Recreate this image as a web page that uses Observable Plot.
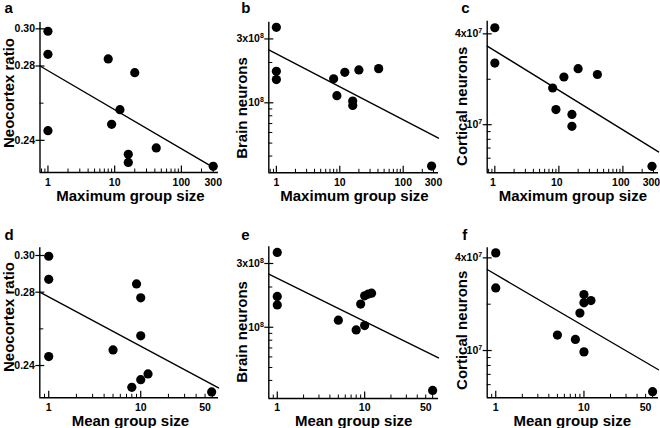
<!DOCTYPE html>
<html><head><meta charset="utf-8">
<script src="https://cdn.jsdelivr.net/npm/d3@7"></script>
<script src="https://cdn.jsdelivr.net/npm/@observablehq/plot@0.6"></script>
<style>
html,body{margin:0;padding:0;background:#fff;}
#wrap{position:relative;width:660px;height:428px;overflow:hidden;background:#fff;}
#wrap svg{position:absolute;}
</style></head><body><div id="wrap"></div>
<script>
// ---------- data ----------
const aX = [1, 1, 1, 8, 20, 12, 9, 16, 16, 42, 300];
const aY = [0.2987, 0.2863, 0.2452, 0.2838, 0.2764, 0.2565, 0.2486, 0.2325, 0.2281, 0.2359, 0.2260];
const bX = [1, 1, 1, 8, 12, 20, 41, 9, 16, 16, 280];
const bY = [3.66e8, 1.72e8, 1.49e8, 1.51e8, 1.69e8, 1.76e8, 1.80e8, 1.13e8, 1.03e8, 9.55e7, 3.37e7];
const cX = [1, 1, 8, 12, 20, 40, 9, 16, 16, 285];
const cY = [4.39e7, 2.56e7, 1.75e7, 2.07e7, 2.35e7, 2.15e7, 1.26e7, 1.17e7, 9.75e6, 5.3e6];
const dX = [1, 1, 1, 9, 10, 10, 5, 10, 12, 8, 59];
const dY = [0.2996, 0.2870, 0.2449, 0.2845, 0.2769, 0.2562, 0.2485, 0.2323, 0.2354, 0.2281, 0.2256];
const eX = [1, 1, 1, 5, 8, 10, 9, 10, 11, 12, 60];
const eY = [3.63e8, 1.70e8, 1.47e8, 1.13e8, 9.55e7, 1.03e8, 1.49e8, 1.72e8, 1.77e8, 1.80e8, 3.37e7];
const fX = [1, 1, 10, 12, 10, 9, 5, 8, 10, 60];
const fY = [4.31e7, 2.55e7, 2.31e7, 2.11e7, 2.04e7, 1.75e7, 1.26e7, 1.18e7, 9.8e6, 5.4e6];

// regression line end points
const aFitX = [0.76, 300], aFitY = [0.28, 0.2255];
const bFitX = [0.76, 360], bFitY = [2.49e8, 5.45e7];
const cFitX = [0.76, 360], cFitY = [3.32e7, 6.6e6];
const dFitX = [0.8, 70],   dFitY = [0.28, 0.2278];
const eFitX = [0.8, 70],   eFitY = [2.5e8, 5.9e7];
const fFitX = [0.8, 70],   fFitY = [3.36e7, 7.5e6];

// ticks
const xTicksMax = [0.8, 0.9, 1, 2, 3, 4, 5, 6, 7, 8, 9, 10, 20, 30, 40, 50, 60, 70, 80, 90, 100, 200, 300];
const xMajorMax = [1, 10, 100];
const xLabelsMax = [1, 10, 100, 300];
const xTicksMean = [0.9, 1, 2, 3, 4, 5, 6, 7, 8, 9, 10, 20, 30, 40, 50, 60];
const xMajorMean = [1, 10];
const xLabelsMean = [1, 10, 50];
const yTicksRatio = [0.24, 0.26, 0.28, 0.30];
const yLabelsRatio = [0.24, 0.28, 0.30];
const yTicksBrain = [4e7, 5e7, 6e7, 7e7, 8e7, 9e7, 1e8, 2e8, 3e8];
const yLabelsBrain = [1e8, 3e8];
const yTicksCortex = [6e6, 7e6, 8e6, 9e6, 1e7, 2e7, 4e7];
const yLabelsCortex = [1e7, 4e7];

const xTitleMax = "Maximum group size";
const xTitleMean = "Mean group size";
const yTitleRatio = "Neocortex ratio";
const yTitleBrain = "Brain neurons";
const yTitleCortex = "Cortical neurons";

// ---------- drawing ----------
const FONT = "Liberation Sans, Arial, Helvetica, sans-serif";
const fmtLin = d3.format(".2f");
const fmtPow = d => {
  const e = Math.floor(Math.log10(d) + 1e-9);
  const m = Math.round(d / Math.pow(10, e));
  return (m === 1 ? "" : m + "x") + "10^" + e;
};

function panel(c) {
  const W = 220, H = 214, mR = 2;
  const pw = W - c.mL - mR, ph = H - c.mT - c.mB;
  const pts = c.x.map((d, i) => ({x: d, y: c.y[i]}));
  const fit = c.fitX.map((d, i) => ({x: d, y: c.fitY[i]}));
  const xMinor = c.xTicks.filter(d => !c.xMajor.includes(d));
  const yMinor = c.yTicks.filter(d => !c.yLabels.includes(d));
  const font = {fontFamily: FONT, fontWeight: "bold", fill: "black"};
  const ax = {stroke: "black", strokeWidth: 1.4};
  const svg = Plot.plot({
    width: W, height: H,
    marginLeft: c.mL, marginRight: mR, marginTop: c.mT, marginBottom: c.mB,
    x: {type: "log", domain: c.xDomain, axis: null},
    y: {type: c.yType, domain: c.yDomain, axis: null},
    style: {background: "transparent", overflow: "visible"},
    marks: [
      Plot.ruleX([c.xDomain[0]], ax),
      Plot.ruleY([c.yDomain[0]], ax),
      Plot.ruleX(xMinor, {x: d => d, insetTop: ph - 3.5, stroke: "black", strokeWidth: 1}),
      Plot.ruleX(c.xMajor, {x: d => d, insetTop: ph - 6.5, stroke: "black", strokeWidth: 1.2}),
      Plot.ruleY(yMinor, {y: d => d, insetLeft: 0, insetRight: pw - 4, stroke: "black", strokeWidth: 1}),
      Plot.ruleY(c.yLabels, {y: d => d, insetLeft: -4, insetRight: pw - 5, stroke: "black", strokeWidth: 1.2}),
      Plot.text(c.xLabels, {x: d => d, text: d => String(d), frameAnchor: "bottom", lineAnchor: "middle", textAnchor: "middle", dx: c.xLabelDx || 0, dy: c.xTickDy, fontSize: 10.5, ...font}),
      Plot.text(c.yLabels, {y: d => d, text: c.yFormat, frameAnchor: "left", lineAnchor: "middle", textAnchor: "end", dx: -5, fontSize: 10.5, ...font}),
      Plot.line(fit, {x: "x", y: "y", stroke: "black", strokeWidth: 1.4}),
      Plot.dot(pts, {x: "x", y: "y", r: 4.6, fill: "black", stroke: "none"}),
      Plot.text([c.xTitle], {text: d => d, frameAnchor: "bottom", lineAnchor: "middle", textAnchor: "middle", dx: c.xTitleDx, dy: c.xTitleDy, fontSize: 15, ...font}),
      Plot.text([c.yTitle], {text: d => d, frameAnchor: "left", lineAnchor: "middle", textAnchor: "middle", rotate: -90, dx: c.yTitleDx, dy: c.yTitleDy, fontSize: 15, ...font}),
      Plot.text([c.letter], {text: d => d, frameAnchor: "top-left", lineAnchor: "middle", textAnchor: "start", dx: c.letterDx, dy: c.letterDy, fontSize: 15, ...font})
    ]
  });
  // superscript exponents
  svg.querySelectorAll("text").forEach(t => {
    const s = t.textContent;
    const i = s.indexOf("^");
    if (i >= 0 && t.children.length === 0) {
      t.textContent = s.slice(0, i);
      const ts = document.createElementNS("http://www.w3.org/2000/svg", "tspan");
      ts.setAttribute("dy", "-4");
      ts.setAttribute("font-size", "7");
      ts.textContent = s.slice(i + 1);
      t.appendChild(ts);
    }
  });
  svg.style.left = c.left + "px";
  svg.style.top = c.top + "px";
  document.getElementById("wrap").appendChild(svg);
}

const topRow = {xDomain: [0.76, 360], xTicks: xTicksMax, xMajor: xMajorMax, xLabels: xLabelsMax, xTitle: xTitleMax};
const botRow = {xDomain: [0.8, 70], xTicks: xTicksMean, xMajor: xMajorMean, xLabels: xLabelsMean, xTitle: xTitleMean};
const ratio = {yType: "linear", yTicks: yTicksRatio, yLabels: yLabelsRatio, yFormat: fmtLin, yTitle: yTitleRatio};
const brain = {yType: "log", yTicks: yTicksBrain, yLabels: yLabelsBrain, yFormat: fmtPow, yTitle: yTitleBrain};
const cortex = {yType: "log", yTicks: yTicksCortex, yLabels: yLabelsCortex, yFormat: fmtPow, yTitle: yTitleCortex};

panel({...topRow, ...ratio, letter: "a", left: 0, top: 0, x: aX, y: aY, fitX: aFitX, fitY: aFitY,
  yDomain: [0.2227, 0.3034], mL: 39.5, mT: 22, mB: 42,
  letterDx: -35.5, letterDy: -14.2, yTitleDx: -31.3, yTitleDy: -4.5, xTitleDx: 1.2, xTitleDy: 23.4, xTickDy: 10.0});
panel({...topRow, ...brain, letter: "b", left: 220, top: 0, x: bX, y: bY, fitX: bFitX, fitY: bFitY,
  yDomain: [3e7, 4e8], mL: 48.3, mT: 21.7, mB: 41.7,
  letterDx: -27.6, letterDy: -13.9, yTitleDx: -26.6, yTitleDy: 10.5, xTitleDx: 0.8, xTitleDy: 23.1, xTickDy: 9.7});
panel({...topRow, ...cortex, letter: "c", left: 440, top: 0, x: cX, y: cY, fitX: cFitX, fitY: cFitY,
  yDomain: [4.8e6, 4.85e7], mL: 46.7, mT: 20.7, mB: 41.7, xLabelDx: -2,
  letterDx: -26, letterDy: -12.9, yTitleDx: -25, yTitleDy: 9.3, xTitleDx: 0, xTitleDy: 23.1, xTickDy: 9.7});
panel({...botRow, ...ratio, letter: "d", left: 0, top: 214, x: dX, y: dY, fitX: dFitX, fitY: dFitY,
  yDomain: [0.2224, 0.3042], mL: 39.3, mT: 33.3, mB: 30.7,
  letterDx: -35.3, letterDy: -13.1, yTitleDx: -31.1, yTitleDy: -5.8, xTitleDx: 1.3, xTitleDy: 23.8, xTickDy: 10.3});
panel({...botRow, ...brain, letter: "e", left: 220, top: 214, x: eX, y: eY, fitX: eFitX, fitY: eFitY,
  yDomain: [2.93e7, 4.0e8], mL: 48.3, mT: 32.3, mB: 30,
  letterDx: -27.6, letterDy: -11.8, yTitleDx: -27.1, yTitleDy: 9.3, xTitleDx: 0, xTitleDy: 23.1, xTickDy: 9.6});
panel({...botRow, ...cortex, letter: "f", left: 440, top: 214, x: fX, y: fY, fitX: fFitX, fitY: fFitY,
  yDomain: [4.93e6, 4.65e7], mL: 46.7, mT: 33.3, mB: 30.7,
  letterDx: -25, letterDy: -13.1, yTitleDx: -25, yTitleDy: 7.5, xTitleDx: -0.6, xTitleDy: 23.8, xTickDy: 10.3});
</script>
</body></html>
